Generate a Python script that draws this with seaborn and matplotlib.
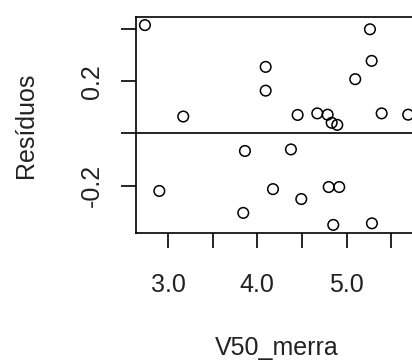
import matplotlib
matplotlib.use("Agg")
import matplotlib.pyplot as plt
import seaborn as sns
import pandas as pd

v50_merra = [2.742, 5.262, 4.094, 5.281, 5.097, 4.094, 3.171, 4.452, 4.672, 4.788,
             4.833, 4.896, 5.393, 5.690, 3.862, 4.377, 2.903, 4.176, 4.493, 4.800,
             4.918, 3.843, 4.851, 5.284]
residuos = [0.415, 0.399, 0.255, 0.278, 0.208, 0.164, 0.065, 0.071, 0.077, 0.072,
            0.041, 0.033, 0.077, 0.072, -0.067, -0.061, -0.220, -0.213, -0.251, -0.205,
            -0.205, -0.304, -0.350, -0.344]
x_ticks = [3.0, 3.5, 4.0, 4.5, 5.0, 5.5]
x_ticklabels = ["3.0", "", "4.0", "", "5.0", ""]
y_ticks = [-0.2, 0.0, 0.2, 0.4]
y_ticklabels = ["-0.2", "", "0.2", ""]

df = pd.DataFrame({"V50_merra": v50_merra, "Resíduos": residuos})

sns.set_style("white")
plt.rcParams["font.family"] = ["Liberation Sans", "DejaVu Sans"]

W, H = 412, 362
fig = plt.figure(figsize=(W / 100, H / 100), dpi=100)
left, right, top, bottom = 136, 418, 17, 233
ax = fig.add_axes([left / W, 1 - bottom / H, (right - left) / W, (bottom - top) / H])

sns.scatterplot(data=df, x="V50_merra", y="Resíduos", ax=ax, marker="o", s=58,
                facecolor="none", edgecolor="black", linewidth=1.1, zorder=3)
ax.axhline(0, color="black", linewidth=1.2, zorder=2)

ax.set_xlim(2.642, 5.80)
ax.set_ylim(-0.381, 0.446)
ax.set_xticks(x_ticks)
ax.set_xticklabels(x_ticklabels)
ax.set_yticks(y_ticks)
ax.set_yticklabels(y_ticklabels, rotation=90, va="center")

for s in ax.spines.values():
    s.set_color("black")
    s.set_linewidth(1.2)

ax.tick_params(axis="both", direction="out", length=11, width=1.2, color="black",
               labelsize=18, labelcolor="#222222")
ax.tick_params(axis="x", pad=18, bottom=True)
ax.tick_params(axis="y", pad=12, left=True)
ax.set_xlabel("V50_merra", fontsize=18, labelpad=28, color="#222222")
ax.set_ylabel("Resíduos", fontsize=18, labelpad=30, color="#222222")

fig.savefig("out.png", dpi=100)
